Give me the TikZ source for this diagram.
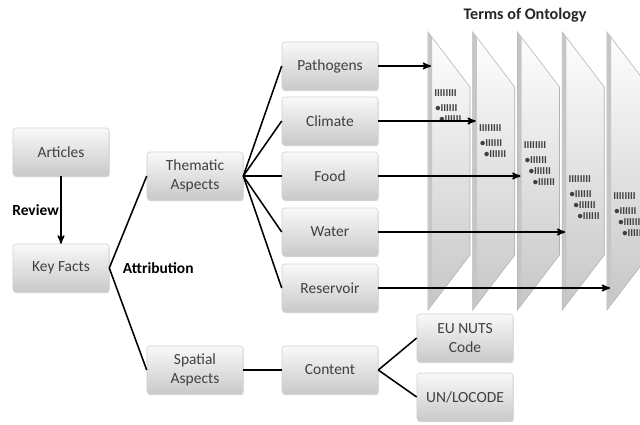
\documentclass[tikz,border=0pt]{standalone}
\usepackage{fontspec}
\setmainfont{Carlito}
\usetikzlibrary{arrows,shadows}

\begin{document}
\begin{tikzpicture}[x=0.025cm,y=-0.025cm,
    box/.style={draw=gray!35, rounded corners=2pt, top color=gray!5, bottom color=gray!42,
        minimum width=2.4cm, minimum height=1.2cm, align=center, text=black!75,
        font=\fontsize{11}{13}\selectfont,
        drop shadow={shadow xshift=0.4pt, shadow yshift=-0.8pt, opacity=0.35}},
    link/.style={line width=1.1pt, black},
    feed/.style={->, >=stealth', line width=1.1pt},
    lbl/.style={font=\bfseries\fontsize{11}{13}\selectfont},
    tick/.style={font=\bfseries\fontsize{7.5}{8}\selectfont, text=black!75, inner sep=0pt, anchor=west}]
    \clip (0,0) rectangle (640,424);

    % Terms of Ontology
    \node[lbl, font=\bfseries\fontsize{11.5}{13}\selectfont, text=black!85] (title) at (525,15) {Terms of Ontology};
    \foreach \i/\yt/\nb in {0/93/2,1/128/2,2/145/3,3/179/3,4/196/3} {
        \pgfmathsetmacro\plx{428+44.75*\i}
        \draw[gray!60, top color=white, bottom color=gray!45] (\plx,32) -- (\plx+42,87) -- (\plx+42,255) -- (\plx,310) -- cycle;
        \fill[gray!45] (\plx,32) -- (\plx+4,37) -- (\plx+4,305) -- (\plx,310) -- cycle;
        \coordinate (plane\i) at (\plx+3,0);
        \node[tick] (head\i) at (\plx+6,\yt) {IIIIIIII};
        \foreach \k in {1,...,\nb}
            \node[tick] (item\i\k) at (\plx+3+4*\k,\yt+4+11*\k) {•IIIIII};
    }

    % Review and attribution
    \node[box] (articles) at (61,152) {Articles};
    \node[box] (keyfacts) at (61,268) {Key Facts};
    \draw[feed] (articles) -- node[lbl, left, inner sep=1pt] (review) {Review} (keyfacts);
    \node[box] (thematic) at (195,176) {Thematic\\Aspects};
    \node[box] (spatial) at (195,370) {Spatial\\Aspects};
    \draw[link] (keyfacts.east) -- (thematic.west);
    \draw[link] (keyfacts.east) -- (spatial.west);
    \node[lbl, anchor=west] (attribution) at (118,268) {Attribution};

    % Thematic aspects
    \foreach \n/\t/\y/\j in {pathogens/Pathogens/66/0, climate/Climate/121/1, food/Food/176/2,
            water/Water/232/3, reservoir/Reservoir/288/4} {
        \node[box] (\n) at (330,\y) {\t};
        \draw[link] (thematic.east) -- (\n.west);
        \draw[feed] (\n.east) -- (\n.east -| plane\j);
    }

    % Spatial aspects
    \node[box] (content) at (330,370) {Content};
    \node[box] (nuts) at (465,338) {EU NUTS\\Code};
    \node[box] (locode) at (465,397) {UN/LOCODE};
    \draw[link] (spatial) -- (content);
    \draw[link] (content.east) -- (nuts.west);
    \draw[link] (content.east) -- (locode.west);
\end{tikzpicture}
\end{document}
